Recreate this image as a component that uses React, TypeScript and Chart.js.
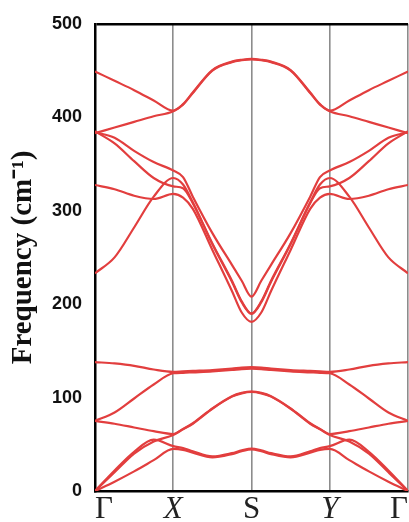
import React, { useEffect, useRef } from "react";
import { Chart, registerables } from "chart.js";

Chart.register(...registerables);

// k-path positions (Γ=0, X=1, S=2, Y=3, Γ=4)
const K_PATH = [0, 0.25, 0.5, 0.75, 1, 1.125, 1.25, 1.5, 1.75, 1.875, 2, 2.125, 2.25, 2.5, 2.75, 2.875, 3, 3.25, 3.5, 3.75, 4];
const K_TICKS = [0, 1, 2, 3, 4];
const K_LABELS = ["Γ", "X", "S", "Y", "Γ"];
const Y_TICKS = [0, 100, 200, 300, 400, 500];

// phonon branches (cm^-1), sampled at K_PATH
const band1 = [0, 10, 21, 33, 45, 44, 41, 36, 39.5, 42.5, 44.5, 42.5, 39.5, 36, 41, 44, 45, 33, 21, 10, 0];
const band2 = [0, 22, 42, 55, 48, 46, 42.5, 37, 40.5, 43.5, 45.5, 43.5, 40.5, 37, 42.5, 46, 48, 55, 42, 22, 0];
const band3 = [0, 20, 40, 53, 60, 66, 72, 88, 101, 104.5, 106, 104.5, 101, 88, 72, 66, 60, 53, 40, 20, 0];
const band4 = [75, 72, 68, 64, 61, 66.5, 72.5, 88.5, 101.5, 105, 106.5, 105, 101.5, 88.5, 72.5, 66.5, 61, 64, 68, 72, 75];
const band5 = [75, 84, 99, 114, 126, 126.5, 127, 128, 129.5, 130.5, 131, 130.5, 129.5, 128, 127, 126.5, 126, 114, 99, 84, 75];
const band6 = [138, 136.5, 134, 130, 127.5, 128, 128.5, 129.5, 131, 132, 132.5, 132, 131, 129.5, 128.5, 128, 127.5, 130, 134, 136.5, 138];
const band7 = [233, 250, 282, 315, 335, 328, 309, 265, 225, 203, 190, 203, 225, 265, 309, 328, 335, 315, 282, 250, 233];
const band8 = [327.5, 323, 316, 312.5, 318, 314, 302, 258, 214, 191, 181, 191, 214, 258, 302, 314, 318, 312.5, 316, 323, 327.5];
const band9 = [384, 378, 364, 352, 343, 336, 315, 276, 242, 225, 208, 225, 242, 276, 315, 336, 343, 352, 364, 378, 384];
const band10 = [385, 372, 353, 335, 326, 324, 308, 264, 224, 202, 189.5, 202, 224, 264, 308, 324, 326, 335, 353, 372, 385];
const band11 = [383, 389, 395, 401, 406.5, 413.5, 426, 450, 459, 461, 462, 461, 459, 450, 426, 413.5, 406.5, 401, 395, 389, 383];
const band12 = [449, 439, 429, 418, 407, 414, 426.5, 450.5, 459.5, 461.5, 462.5, 461.5, 459.5, 450.5, 426.5, 414, 407, 418, 429, 439, 449];

const BANDS = [band1, band2, band3, band4, band5, band6, band7, band8, band9, band10, band11, band12];

const RED = "rgb(226,62,62)";

export default function App() {
  const ref = useRef<HTMLCanvasElement>(null);

  useEffect(() => {
    document.body.style.margin = "0";
    const chart = new Chart(ref.current as HTMLCanvasElement, {
      type: "line",
      data: {
        datasets: BANDS.map((b) => ({
          data: K_PATH.map((k, i) => ({ x: k, y: b[i] })),
          borderColor: RED,
          borderWidth: 2.2,
          pointRadius: 0,
          cubicInterpolationMode: "monotone" as const,
          fill: false,
        })),
      },
      options: {
        animation: false,
        responsive: false,
        maintainAspectRatio: false,
        layout: { padding: { top: 21, right: 1, left: 0, bottom: 0 }, autoPadding: false },
        plugins: { legend: { display: false }, tooltip: { enabled: false } },
        scales: {
          x: {
            type: "linear",
            min: 0,
            max: 4,
            afterBuildTicks: (s: any) => {
              s.ticks = K_TICKS.map((v) => ({ value: v }));
            },
            afterFit: (s: any) => {
              s.height = 31;
            },
            ticks: {
              autoSkip: false,
              maxRotation: 0,
              align: "inner",
              padding: 0,
              color: "#222",
              callback: (v: any) => {
                const i = K_TICKS.indexOf(Number(v));
                return i >= 0 ? K_LABELS[i] : "";
              },
              font: (ctx: any) => ({
                family: "'Liberation Serif', 'Times New Roman', serif",
                size: 31,
                style: ctx.index === 1 || ctx.index === 3 ? "italic" : "normal",
              }),
            },
            grid: {
              drawTicks: false,
              color: (ctx: any) => (ctx.index === 0 ? "rgba(0,0,0,0)" : "#8c8c8c"),
              lineWidth: 1.6,
            },
            border: { color: "#000", width: 2.5 },
          },
          y: {
            min: 0,
            max: 500,
            afterBuildTicks: (s: any) => {
              s.ticks = Y_TICKS.map((v) => ({ value: v }));
            },
            afterFit: (s: any) => {
              s.width = 95;
            },
            ticks: {
              padding: 13,
              color: "#111",
              font: { family: "'Liberation Sans', Arial, sans-serif", size: 18, weight: "bold" },
            },
            grid: {
              drawTicks: false,
              color: (ctx: any) => (ctx.tick && ctx.tick.value === 500 ? "#000" : "rgba(0,0,0,0)"),
              lineWidth: 2.5,
            },
            border: { color: "#000", width: 2.5 },
            title: {
              display: true,
              text: "Frequency (cm⁻¹)",
              color: "#111",
              font: { family: "'Liberation Serif', 'Times New Roman', serif", size: 29, weight: "bold" },
              padding: { top: 6, bottom: 0 },
            },
          },
        },
      } as any,
    });
    return () => chart.destroy();
  }, []);

  return (
    <div style={{ width: 409, height: 522 }}>
      <canvas ref={ref} width={409} height={522} style={{ display: "block" }} />
    </div>
  );
}
